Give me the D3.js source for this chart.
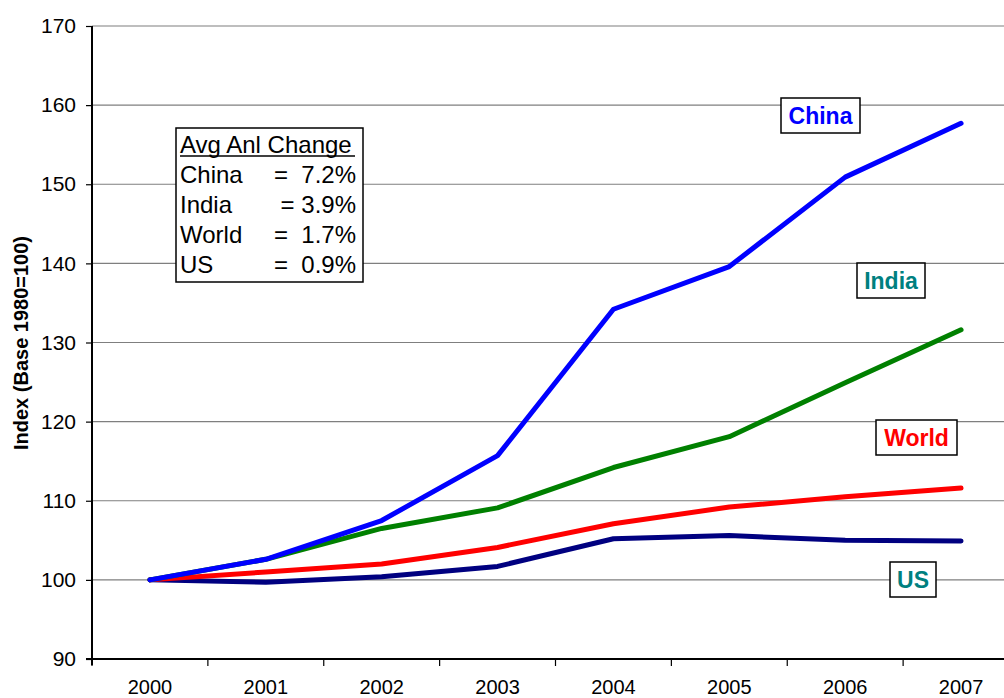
<!DOCTYPE html>
<html><head><meta charset="utf-8">
<script src="https://cdn.jsdelivr.net/npm/d3@7"></script>
<style>body{margin:0;background:#fff}svg{display:block}text{font-family:Arial,"Liberation Sans",sans-serif}</style>
</head><body><svg id="c" width="1004" height="698"></svg>
<script>
const years = ["2000","2001","2002","2003","2004","2005","2006","2007"];
const china = [100,102.6,107.5,115.7,134.2,139.6,150.9,157.7];
const india = [100,102.6,106.5,109.1,114.2,118.1,124.9,131.6];
const world = [100,101.0,102.0,104.1,107.1,109.2,110.5,111.6];
const us    = [100,99.7,100.4,101.7,105.2,105.6,105.0,104.9];
const yTicks = [90,100,110,120,130,140,150,160,170];
const legendLines = [["China","=  7.2%"],["India","= 3.9%"],["World","=  1.7%"],["US","=  0.9%"]];

const FONT = "Arial, 'Liberation Sans', sans-serif";
const svg = d3.select("#c");
const L=92, R=1019, T=26, B=659;
const x = d3.scaleBand().domain(years).range([L,R]);
const y = d3.scaleLinear().domain([90,170]).range([B,T]);

// gridlines
svg.append("g").selectAll("line").data(yTicks.filter(v=>v>90)).join("line")
  .attr("x1",L).attr("x2",R).attr("y1",d=>y(d)).attr("y2",d=>y(d))
  .attr("stroke","#7f7f7f").attr("stroke-width",1.2);

// y axis
const ya = svg.append("g").attr("transform",`translate(${L},0)`)
  .call(d3.axisLeft(y).tickValues(yTicks).tickSize(6).tickPadding(10));
ya.select(".domain").remove();
ya.append("line").attr("x1",0).attr("x2",0).attr("y1",T).attr("y2",B+6).attr("stroke","#000").attr("stroke-width",2);
ya.selectAll(".tick line").attr("stroke","#000").attr("stroke-width",1.2);
ya.selectAll(".tick text").attr("font-size",21).attr("fill","#000").attr("font-family",FONT);

// x axis
const xa = svg.append("g").attr("transform",`translate(0,${B})`)
  .call(d3.axisBottom(x).tickSize(0).tickPadding(21));
xa.select(".domain").remove();
xa.append("line").attr("x1",L-6).attr("x2",R).attr("y1",0).attr("y2",0).attr("stroke","#000").attr("stroke-width",2);
xa.selectAll(".tick text").attr("font-size",20).attr("fill","#000").attr("font-family",FONT);
xa.append("g").selectAll("line").data(years).join("line")
  .attr("x1",d=>x(d)).attr("x2",d=>x(d)).attr("y1",0).attr("y2",7)
  .attr("stroke","#000").attr("stroke-width",1.2);

// axis title
svg.append("text").attr("transform","translate(28,343) rotate(-90)")
  .attr("text-anchor","middle").attr("font-size",20).attr("font-weight","bold").text("Index (Base 1980=100)");

// lines
const line = d3.line().x((d,i)=>x(years[i])+x.bandwidth()/2).y(d=>y(d));
const series = [[us,"#000080"],[world,"#ff0000"],[india,"#008000"],[china,"#0000ff"]];
svg.append("g").selectAll("path").data(series).join("path")
  .attr("d",d=>line(d[0])).attr("fill","none").attr("stroke",d=>d[1])
  .attr("stroke-width",5).attr("stroke-linejoin","round").attr("stroke-linecap","round");

// series labels
const labels = [["China","#0000ff",781,98,79],["India","#008080",857,263,68],["World","#ff0000",876,420,81],["US","#008080",890,562,46]];
labels.forEach(([t,c,bx,by,w])=>{
  const g = svg.append("g");
  g.append("rect").attr("x",bx).attr("y",by).attr("width",w).attr("height",35).attr("fill","#fff").attr("stroke","#000").attr("stroke-width",1.5);
  g.append("text").attr("x",bx+w/2).attr("y",by+26).attr("text-anchor","middle").attr("font-size",23).attr("font-weight","bold").attr("fill",c).text(t);
});

// legend box
const lg = svg.append("g");
lg.append("rect").attr("x",176).attr("y",128).attr("width",187).attr("height",154).attr("fill","#fff").attr("stroke","#000").attr("stroke-width",1.5);
lg.append("text").attr("x",180).attr("y",153).attr("font-size",24).text("Avg Anl Change");
lg.append("line").attr("x1",180).attr("x2",355).attr("y1",156).attr("y2",156).attr("stroke","#000").attr("stroke-width",1.5);
legendLines.forEach(([a,b],i)=>{
  lg.append("text").attr("x",180).attr("y",183+i*30).attr("font-size",24).text(a);
  lg.append("text").attr("x",356).attr("y",183+i*30).attr("font-size",24).attr("text-anchor","end").style("white-space","pre").text(b);
});
</script></body></html>
